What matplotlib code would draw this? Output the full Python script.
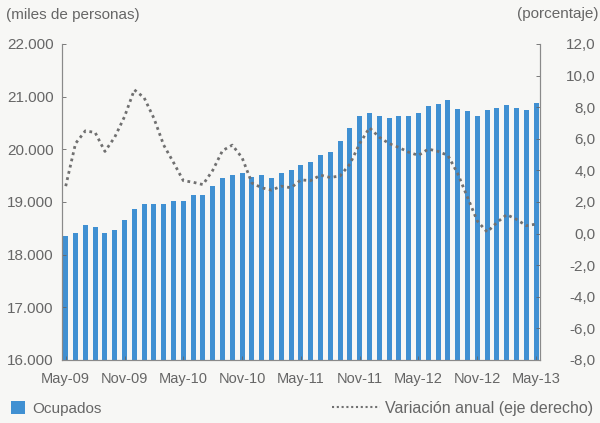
import numpy as np
import matplotlib
matplotlib.use("Agg")
import matplotlib.pyplot as plt
from matplotlib.lines import Line2D
from matplotlib.patches import Patch

plt.rcParams['font.family'] = ['Liberation Sans', 'DejaVu Sans']

# meses May-09 .. May-13
meses = ['May-09', 'Nov-09', 'May-10', 'Nov-10', 'May-11', 'Nov-11', 'May-12', 'Nov-12', 'May-13']

# ocupados (miles de personas)
ocupados = [18350, 18410, 18560, 18520, 18410, 18470, 18660, 18860, 18970, 18970,
            18970, 19020, 19020, 19130, 19130, 19300, 19450, 19510, 19550, 19470,
            19510, 19460, 19550, 19610, 19710, 19760, 19900, 19950, 20150, 20410,
            20630, 20690, 20630, 20590, 20630, 20630, 20690, 20820, 20870, 20930,
            20770, 20720, 20630, 20740, 20790, 20840, 20790, 20740, 20880]

# variacion anual (porcentaje, eje derecho)
variacion = [3.0, 5.7, 6.5, 6.4, 5.2, 6.1, 7.4, 9.1, 8.6, 7.3,
             5.6, 4.5, 3.35, 3.25, 3.1, 4.0, 5.25, 5.6, 4.8, 3.2,
             2.9, 2.75, 3.0, 2.9, 3.4, 3.35, 3.7, 3.55, 3.65, 4.4,
             5.7, 6.7, 6.1, 5.7, 5.45, 5.15, 4.95, 5.35, 5.2, 4.95,
             3.8, 2.3, 0.8, 0.1, 0.7, 1.2, 0.9, 0.5, 0.6]

izq_ticks = [16000, 17000, 18000, 19000, 20000, 21000, 22000]
der_ticks = [-8, -6, -4, -2, 0, 2, 4, 6, 8, 10, 12]

gris = '#666666'
azul = '#4090d2'
fondo = '#f7f7f5'
fs = 11

fig = plt.figure(figsize=(6, 4.23), dpi=100, facecolor=fondo)
ax = fig.add_axes([0.103, 0.149, 0.797, 0.747])
ax.set_facecolor(fondo)

x = np.arange(len(ocupados))
ax.bar(x, np.array(ocupados) - 16000, bottom=16000, width=0.5, color=azul)
ax.set_xlim(-0.4, len(ocupados) - 0.6)
ax.set_ylim(16000, 22000)
ax.set_yticks(izq_ticks)
ax.set_yticklabels([f'{v:,}'.replace(',', '.') for v in izq_ticks])
ax.set_xticks(np.arange(0, len(ocupados), 6))
ax.set_xticklabels(meses)

ax2 = ax.twinx()
ax2.plot(x, variacion, color='#707070', linestyle=(0, (1, 1.3)), linewidth=2)
ax2.set_ylim(-8, 12)
ax2.set_yticks(der_ticks)
ax2.set_yticklabels([f'{v:.1f}'.replace('.', ',') for v in der_ticks])

for a in (ax, ax2):
    a.spines['top'].set_visible(False)
    for s in ('left', 'right', 'bottom'):
        a.spines[s].set_color('#8a8a8a')
        a.spines[s].set_linewidth(0.8)
    a.tick_params(colors=gris, labelsize=fs, length=3, width=0.6, direction='in')
    for t in a.get_xticklabels() + a.get_yticklabels():
        t.set_color(gris)
ax.tick_params(axis='y', pad=6)
ax.tick_params(axis='x', pad=9, labelsize=10.5)
ax2.tick_params(axis='y', pad=40)
for t in ax2.get_yticklabels():
    t.set_horizontalalignment('right')

fig.text(0.01, 0.965, '(miles de personas)', fontsize=fs, color=gris, ha='left', va='center')
fig.text(0.998, 0.968, '(porcentaje)', fontsize=fs, color=gris, ha='right', va='center')

fig.legend(handles=[Patch(facecolor=azul, edgecolor='none', label='Ocupados')],
           loc='center left', bbox_to_anchor=(-0.005, 0.035), frameon=False,
           fontsize=fs, labelcolor=gris, handlelength=0.9, handleheight=0.9, handletextpad=0.5)
fig.legend(handles=[Line2D([], [], color='#707070', linestyle=(0, (1, 1.3)), linewidth=1.5,
                           label='Variación anual (eje derecho)')],
           loc='center right', bbox_to_anchor=(1.012, 0.035), frameon=False,
           fontsize=11.5, labelcolor=gris, handlelength=3.0, handletextpad=0.3)

fig.savefig('out.png', dpi=100, facecolor=fondo)
